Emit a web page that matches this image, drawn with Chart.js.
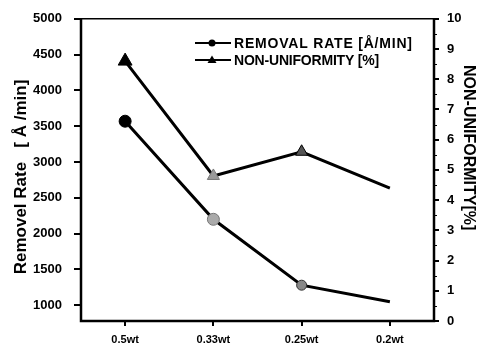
<!DOCTYPE html>
<html>
<head>
<meta charset="utf-8">
<script src="https://cdn.jsdelivr.net/npm/chart.js@4.4.0/dist/chart.umd.min.js"></script>
<style>
  html, body { margin: 0; padding: 0; background: #fff; }
  #wrap { position: relative; width: 484px; height: 347px; }
</style>
</head>
<body>
<div id="wrap"><canvas id="c" width="484" height="347"></canvas></div>
<script>
// Removal rate / non-uniformity vs slurry concentration
const categories = ['0.5wt', '0.33wt', '0.25wt', '0.2wt'];
const removalRate = [3570, 2200, 1280, 1050];      // Å/min, left axis
const nonUniformity = [8.6, 4.8, 5.6, 4.4];        // %, right axis
const leftTicks = [1000, 1500, 2000, 2500, 3000, 3500, 4000, 4500, 5000];
const rightTicks = [0, 1, 2, 3, 4, 5, 6, 7, 8, 9, 10];

const FONT = 'Arial, "Liberation Sans", Helvetica, sans-serif';

// box around the plot, tick marks and the legend inside the plot
const framePlugin = {
  id: 'frame',
  afterDraw(chart) {
    const a = chart.chartArea;
    const ctx = chart.ctx;
    const sx = chart.scales.x, sy = chart.scales.y, sy2 = chart.scales.y2;
    ctx.save();
    ctx.strokeStyle = '#000';
    ctx.lineWidth = 1.5;
    ctx.beginPath();
    ctx.moveTo(a.left, a.top);
    ctx.lineTo(a.right, a.top);
    ctx.stroke();
    ctx.lineWidth = 2.5;
    ctx.beginPath();
    ctx.moveTo(a.left, a.top);
    ctx.lineTo(a.left, a.bottom);
    ctx.lineTo(a.right, a.bottom);
    ctx.lineTo(a.right, a.top);
    ctx.stroke();

    // tick marks
    ctx.lineWidth = 2;
    ctx.beginPath();
    leftTicks.forEach(v => {
      const y = Math.round(sy.getPixelForValue(v));
      ctx.moveTo(a.left - 7, y); ctx.lineTo(a.left, y);
    });
    rightTicks.forEach(v => {
      const y = Math.round(sy2.getPixelForValue(v));
      ctx.moveTo(a.right, y); ctx.lineTo(a.right + 5, y);
    });
    categories.forEach((c, i) => {
      const x = Math.round(sx.getPixelForValue(i));
      ctx.moveTo(x, a.bottom); ctx.lineTo(x, a.bottom + 5);
    });
    ctx.stroke();
    ctx.lineWidth = 1;
    ctx.beginPath();
    rightTicks.slice(0, -1).forEach(v => {
      const y = Math.round(sy2.getPixelForValue(v + 0.5)) + 0.5;
      ctx.moveTo(a.right, y); ctx.lineTo(a.right + 3, y);
    });
    ctx.stroke();

    // legend
    const rows = [
      { text: 'REMOVAL RATE [\u00C5/MIN]', style: 'circle', y: 43, spacing: '0.8px' },
      { text: 'NON-UNIFORMITY [%]', style: 'triangle', y: 60, spacing: '-0.2px' }
    ];
    rows.forEach(r => {
      ctx.lineWidth = 2;
      ctx.beginPath();
      ctx.moveTo(195, r.y);
      ctx.lineTo(231, r.y);
      ctx.stroke();
      ctx.fillStyle = '#000';
      ctx.beginPath();
      if (r.style === 'circle') {
        ctx.arc(212, r.y, 3.5, 0, Math.PI * 2);
      } else {
        ctx.moveTo(212, r.y - 4.5);
        ctx.lineTo(216.5, r.y + 3);
        ctx.lineTo(207.5, r.y + 3);
        ctx.closePath();
      }
      ctx.fill();
      ctx.font = 'bold 14px ' + FONT;
      ctx.letterSpacing = r.spacing;
      ctx.textBaseline = 'middle';
      ctx.textAlign = 'left';
      ctx.fillText(r.text, 234, r.y + 1);
    });
    ctx.restore();
  }
};

new Chart(document.getElementById('c'), {
  type: 'line',
  data: {
    labels: categories,
    datasets: [
      {
        label: 'REMOVAL RATE [\u00C5/MIN]',
        data: removalRate,
        yAxisID: 'y',
        borderColor: '#000',
        borderWidth: 3,
        pointStyle: 'circle',
        pointRadius: [6, 6, 5, 0],
        pointBackgroundColor: ['#000', '#aaa', '#888', '#000'],
        pointBorderColor: ['#000', '#777', '#333', '#000'],
        pointBorderWidth: 1,
        tension: 0
      },
      {
        label: 'NON-UNIFORMITY [%]',
        data: nonUniformity,
        yAxisID: 'y2',
        borderColor: '#000',
        borderWidth: 3,
        pointStyle: 'triangle',
        pointRadius: [8, 7, 7, 0],
        pointBackgroundColor: ['#000', '#999', '#555', '#000'],
        pointBorderColor: ['#000', '#777', '#000', '#000'],
        pointBorderWidth: 1,
        tension: 0
      }
    ]
  },
  options: {
    responsive: false,
    animation: false,
    layout: { padding: { top: 11 } },
    plugins: {
      legend: { display: false },
      tooltip: { enabled: false }
    },
    scales: {
      x: {
        offset: true,
        grid: { display: false },
        border: { display: false },
        ticks: { color: '#000', font: { family: FONT, size: 11, weight: 'bold' }, padding: 4 },
        afterFit(s) { s.height = 26; }
      },
      y: {
        position: 'left',
        min: 780,
        max: 5000,
        afterBuildTicks(s) { s.ticks = leftTicks.map(v => ({ value: v })); },
        grid: { display: false },
        border: { display: false },
        ticks: {
          color: '#000',
          font: { family: FONT, size: 13, weight: 'bold' },
          padding: 11,
          callback: v => String(v)
        },
        title: {
          display: true,
          text: 'Removel Rate   [ \u00C5 /min]   ',
          color: '#000',
          font: { family: FONT, size: 17, weight: 'bold' },
          padding: { top: 11, bottom: 0 }
        },
        afterFit(s) { s.width = 81; }
      },
      y2: {
        position: 'right',
        min: 0,
        max: 10,
        afterBuildTicks(s) { s.ticks = rightTicks.map(v => ({ value: v })); },
        grid: { display: false },
        border: { display: false },
        ticks: {
          color: '#000',
          font: { family: FONT, size: 13, weight: 'bold' },
          padding: 5,
          callback: v => String(v)
        },
        title: {
          display: true,
          text: 'NON-UNIFORMITY[%]          ',
          color: '#000',
          font: { family: FONT, size: 16, weight: 'bold' },
          padding: { top: 6, bottom: 0 }
        },
        afterFit(s) { s.width = 50; }
      }
    }
  },
  plugins: [framePlugin]
});
</script>
</body>
</html>
